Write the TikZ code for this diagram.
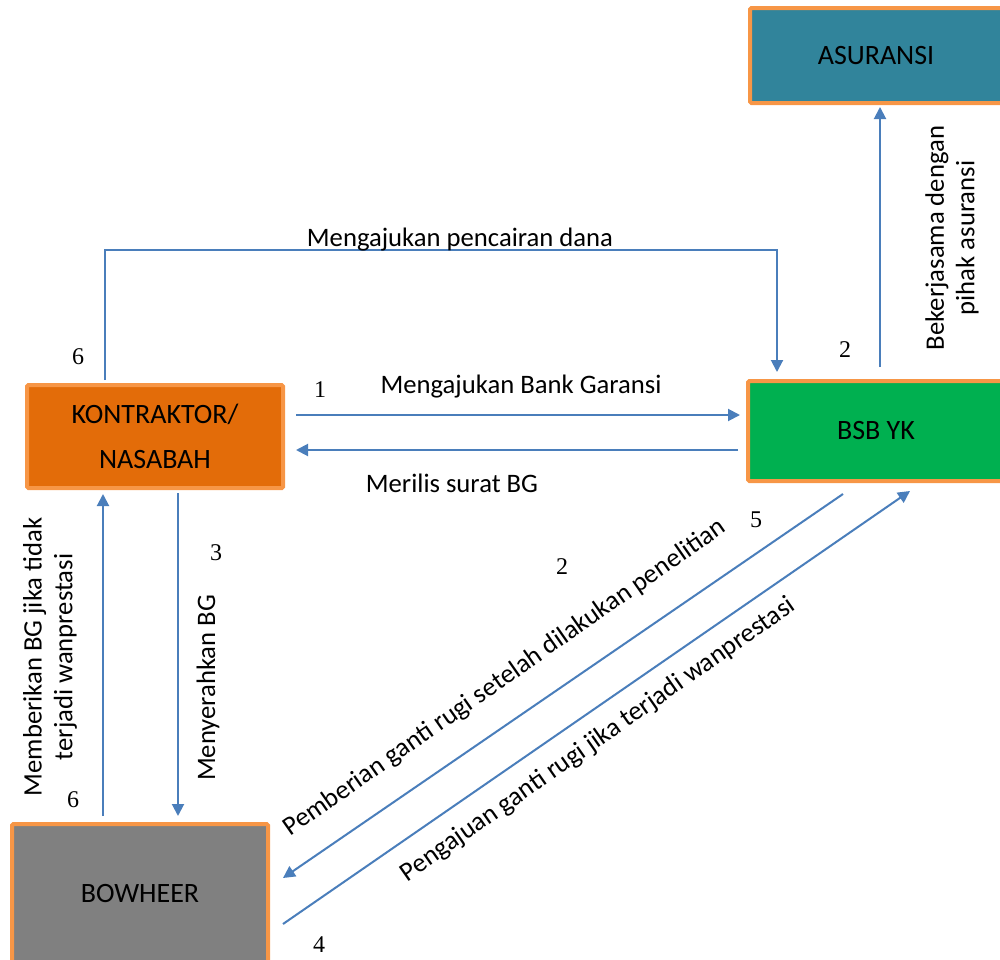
\documentclass[tikz,border=0pt]{standalone}
\usepackage{fontspec}
\setmainfont{Carlito}
\newfontfamily\numfont{Liberation Serif}
\usetikzlibrary{arrows.meta}
\definecolor{bordor}{HTML}{F79646}
\definecolor{teal1}{HTML}{31849B}
\definecolor{orng}{HTML}{E36C09}
\definecolor{grn}{HTML}{00B050}
\definecolor{gry}{HTML}{808080}
\definecolor{arr}{HTML}{4A7EBB}
\tikzset{
  box/.style={draw=bordor, line width=3pt, rounded corners=1pt, font=\fontsize{21}{26}\selectfont, align=center, inner sep=0pt},
  conn/.style={draw=arr, line width=1.5pt},
  arrow/.style={conn, -{Triangle[length=9pt,width=9pt]}},
  lbl/.style={font=\fontsize{20}{23}\selectfont, align=center, inner sep=0pt},
  num/.style={font=\numfont\fontsize{18}{20}\selectfont, inner sep=0pt}
}
\begin{document}
\begin{tikzpicture}[x=0.75pt,y=-0.75pt]
\useasboundingbox (0,0) rectangle (1000,960);
\clip (0,0) rectangle (1000,960);
% boxes
\node[box, fill=teal1, minimum width=252*0.75pt, minimum height=95*0.75pt] (asu) at (876,55.5) {ASURANSI};
\node[box, fill=grn, minimum width=256*0.75pt, minimum height=100*0.75pt] (bsb) at (876,431) {BSB YK};
\node[box, fill=orng, minimum width=256*0.75pt, minimum height=103*0.75pt] (kon) at (155,436.5) {KONTRAKTOR/\\[8pt]NASABAH};
\node[box, fill=gry, minimum width=256*0.75pt, minimum height=140*0.75pt] (bow) at (140,894) {BOWHEER};

% coordinates
\coordinate (k1) at (105,380);
\coordinate (k1a) at (105,250);
\coordinate (b1a) at (777,250);
\coordinate (b1) at (777,372);
\coordinate (a1s) at (296,415);
\coordinate (a1e) at (740,415);
\coordinate (a2s) at (738,450);
\coordinate (a2e) at (296,450);
\coordinate (a3s) at (880,367);
\coordinate (a3e) at (880,107);
\coordinate (a4s) at (178,493);
\coordinate (a4e) at (178,816);
\coordinate (a5s) at (103,816);
\coordinate (a5e) at (103,494);
\coordinate (d1s) at (843,494);
\coordinate (d1e) at (283,878);
\coordinate (d2s) at (283,924);
\coordinate (d2e) at (910,491);

% connectors
\draw[arrow] (k1) -- (k1a) -- (b1a) -- (b1);
\draw[arrow] (a1s) -- (a1e);
\draw[arrow] (a2s) -- (a2e);
\draw[arrow] (a3s) -- (a3e);
\draw[arrow] (a4s) -- (a4e);
\draw[arrow] (a5s) -- (a5e);
\draw[arrow] (d1s) -- (d1e);
\draw[arrow] (d2s) -- (d2e);

% labels
\node[lbl] (l1) at (460,240) {Mengajukan pencairan dana};
\node[lbl] (l2) at (521,387) {Mengajukan Bank Garansi};
\node[lbl] (l3) at (452,483) {Merilis surat BG};
\node[lbl, rotate=90] (l4) at (952,238) {Bekerjasama dengan\\pihak asuransi};
\node[lbl, rotate=90] (l5) at (208,688) {Menyerahkan BG};
\node[lbl, rotate=90] (l6) at (50,657) {Memberikan BG jika tidak\\terjadi wanprestasi};
\node[lbl, rotate=35] (l7) at (505,678) {Pemberian ganti rugi setelah dilakukan penelitian};
\node[lbl, rotate=35] (l8) at (598,740) {Pengajuan ganti rugi jika terjadi wanprestasi};

% numbers
\node[num] (n6a) at (78,357) {6};
\node[num] (n1) at (320,390) {1};
\node[num] (n2a) at (845,350) {2};
\node[num] (n5) at (756,520) {5};
\node[num] (n2b) at (562,567) {2};
\node[num] (n3) at (216,553) {3};
\node[num] (n6b) at (73,800) {6};
\node[num] (n4) at (319,945) {4};
\end{tikzpicture}
\end{document}
